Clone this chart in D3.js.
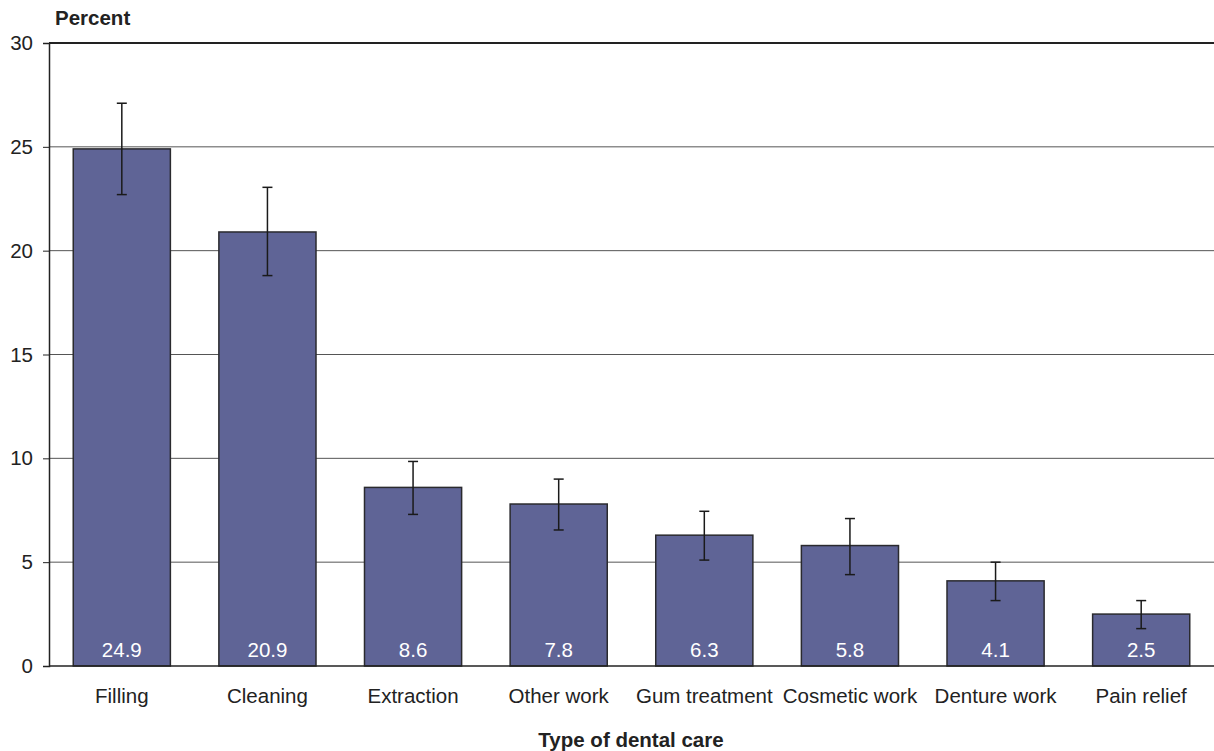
<!DOCTYPE html>
<html><head><meta charset="utf-8">
<script src="https://cdn.jsdelivr.net/npm/d3@7"></script>
<style>body{margin:0;background:#fff}svg{display:block}text{font-family:"Liberation Sans",Arial,sans-serif}</style>
</head><body><svg id="c" width="1214" height="751"></svg>
<script>
const categories = ["Filling","Cleaning","Extraction","Other work","Gum treatment","Cosmetic work","Denture work","Pain relief"];
const values = [24.9,20.9,8.6,7.8,6.3,5.8,4.1,2.5];
const lower = [22.7,18.8,7.3,6.55,5.1,4.4,3.15,1.8];
const upper = [27.1,23.05,9.85,9.0,7.45,7.1,5.0,3.15];
const yTicks = [0,5,10,15,20,25,30];

const svg = d3.select("#c");
const m = {l:49, r:0, t:43, b:85};
const W = 1214, H = 751;
const FS = 20.5;
const x = d3.scaleBand().domain(categories).range([m.l, W]).paddingInner(0.333).paddingOuter(0.1665);
const y = d3.scaleLinear().domain([0,30]).range([H-m.b, m.t]);

// gridlines
svg.append("g").selectAll("line").data(yTicks.filter(t=>t>0 && t<30)).join("line")
  .attr("x1", m.l).attr("x2", W).attr("y1", d=>y(d)).attr("y2", d=>y(d))
  .attr("stroke","#555").attr("stroke-width",1);
svg.append("line").attr("x1",m.l).attr("x2",W).attr("y1",y(30)).attr("y2",y(30)).attr("stroke","#222").attr("stroke-width",2);

// y axis
const ya = svg.append("g").attr("transform",`translate(${m.l},0)`)
  .call(d3.axisLeft(y).tickValues(yTicks).tickSize(6).tickPadding(10));
ya.select(".domain").attr("stroke","#222").attr("stroke-width",1.5);
ya.selectAll(".tick line").attr("stroke","#222");
ya.selectAll("text").attr("font-size",FS).attr("fill","#222");

// bars
svg.append("g").selectAll("rect").data(values).join("rect")
  .attr("x",(d,i)=>x(categories[i])).attr("width",x.bandwidth())
  .attr("y",d=>y(d)).attr("height",d=>y(0)-y(d))
  .attr("fill","#5f6496").attr("stroke","#2a2a2e").attr("stroke-width",1.5);

// x axis baseline
svg.append("line").attr("x1",m.l).attr("x2",W).attr("y1",y(0)).attr("y2",y(0)).attr("stroke","#222").attr("stroke-width",1.5);

// error bars
const eb = svg.append("g").attr("stroke","#1a1a1a").attr("stroke-width",1.5);
categories.forEach((c,i)=>{
  const cx = x(c)+x.bandwidth()/2;
  eb.append("line").attr("x1",cx).attr("x2",cx).attr("y1",y(lower[i])).attr("y2",y(upper[i]));
  eb.append("line").attr("x1",cx-5).attr("x2",cx+5).attr("y1",y(lower[i])).attr("y2",y(lower[i]));
  eb.append("line").attr("x1",cx-5).attr("x2",cx+5).attr("y1",y(upper[i])).attr("y2",y(upper[i]));
});

// value labels
svg.append("g").selectAll("text").data(values).join("text")
  .attr("x",(d,i)=>x(categories[i])+x.bandwidth()/2).attr("y",y(0)-9)
  .attr("text-anchor","middle").attr("font-size",FS).attr("fill","#fff")
  .text(d=>d.toFixed(1));

// category labels
svg.append("g").selectAll("text").data(categories).join("text")
  .attr("x",d=>x(d)+x.bandwidth()/2).attr("y",y(0)+37)
  .attr("text-anchor","middle").attr("font-size",FS).attr("fill","#222")
  .text(d=>d);

svg.append("text").attr("x",55).attr("y",25).attr("font-size",FS).attr("font-weight","bold").attr("fill","#222").text("Percent");
svg.append("text").attr("x",631).attr("y",747).attr("text-anchor","middle").attr("font-size",FS).attr("font-weight","bold").attr("fill","#222").text("Type of dental care");
</script></body></html>
